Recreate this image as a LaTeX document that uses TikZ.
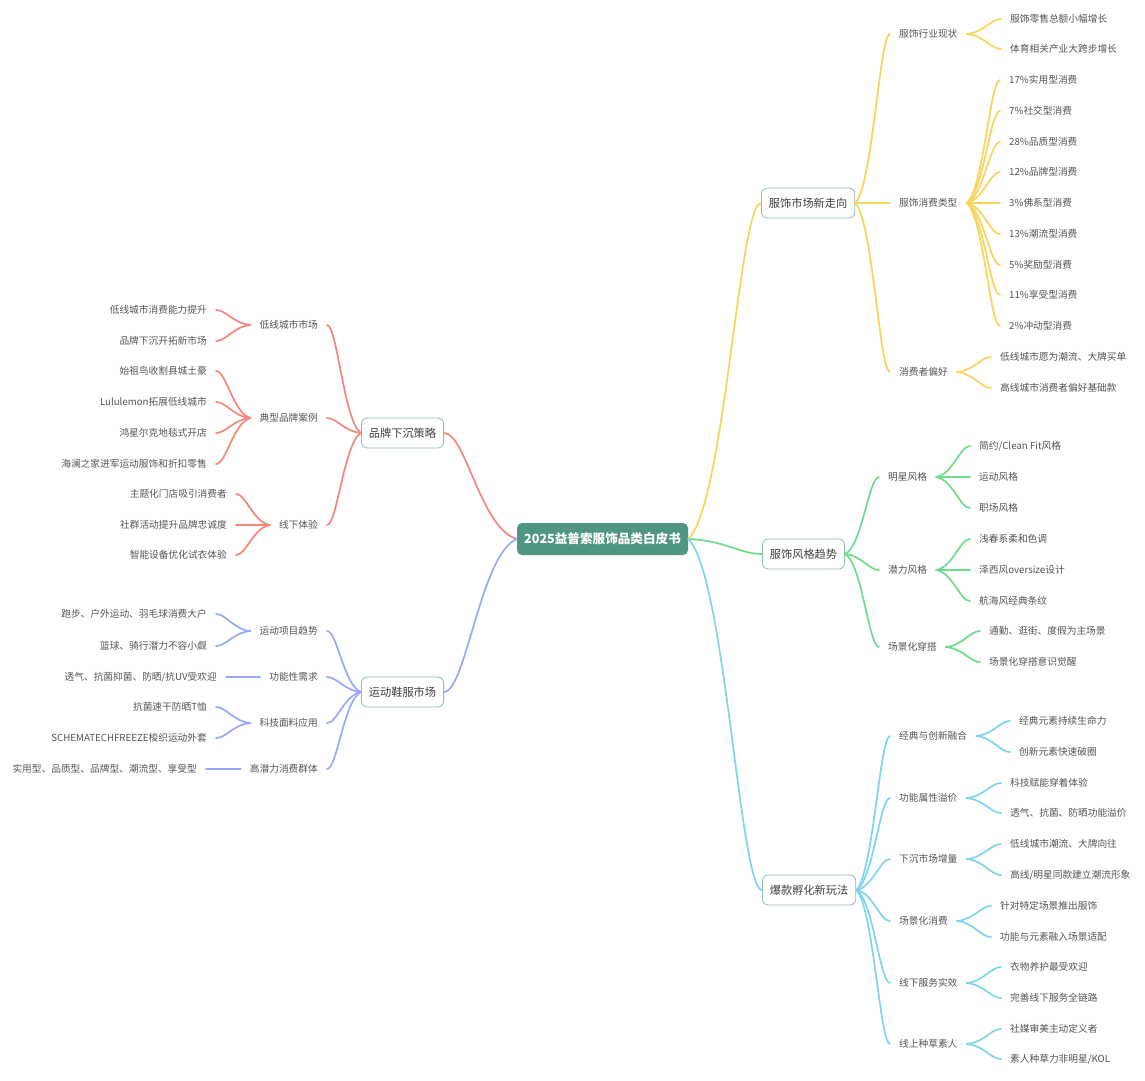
\documentclass[tikz,border=0pt]{standalone}
\usepackage{fontspec}
\setmainfont{Noto Sans CJK SC}
\usetikzlibrary{calc}
\definecolor{cy}{HTML}{F9D45C}
\definecolor{cg}{HTML}{6FDC8C}
\definecolor{cc}{HTML}{7ED6EA}
\definecolor{cr}{HTML}{F3877A}
\definecolor{cb}{HTML}{9AA9F5}
\definecolor{rootc}{HTML}{4E9582}
\definecolor{boxc}{HTML}{8EBDB2}
\definecolor{txt}{HTML}{555555}
\definecolor{txtdark}{HTML}{404040}
\tikzset{
  rootnode/.style={fill=rootc, rounded corners=5pt, text=white, font=\fontsize{12.6}{15}\selectfont\bfseries, minimum width=171pt, minimum height=32pt, inner sep=0pt},
  topic/.style={draw=boxc, line width=0.8pt, fill=white, rounded corners=6pt, font=\fontsize{11.2}{13}\selectfont, text=txtdark, minimum height=30pt, inner xsep=7.5pt, inner ysep=0pt},
  subnode/.style={font=\fontsize{9.7}{12}\selectfont, text=txt, inner xsep=9pt, inner ysep=2pt},
  edge/.style={line width=1.7pt, line cap=round},
}
\newcommand\cn[3]{\draw[edge,#1] let \p1=(#2), \p2=(#3) in (\p1) .. controls ({\x1+0.5*(\x2-\x1)},{\y1+0.1*(\y2-\y1)}) and ({\x2-0.3*(\x2-\x1)},{\y2}) .. (\p2);}
\begin{document}
\begin{tikzpicture}[x=1pt,y=-1pt]
\useasboundingbox[fill=white] (0,0) rectangle (1145,1080);
% root
\node[rootnode] (r) at (602.5,539) {2025益普索服饰品类白皮书};
% main topics
\node[topic,anchor=west] (Y) at (761,203) {服饰市场新走向};
\node[topic,anchor=west] (G) at (762,554) {服饰风格趋势};
\node[topic,anchor=west] (C) at (762,890) {爆款孵化新玩法};
\node[topic,anchor=east] (R) at (444,433) {品牌下沉策略};
\node[topic,anchor=east] (B) at (444,692) {运动鞋服市场};
% yellow subtopics
\node[subnode,anchor=west] (y1) at (890,34) {服饰行业现状};
\node[subnode,anchor=west] (y2) at (890,203) {服饰消费类型};
\node[subnode,anchor=west] (y3) at (890,372) {消费者偏好};
\node[subnode,anchor=west] (y1a) at (1001,19) {服饰零售总额小幅增长};
\node[subnode,anchor=west] (y1b) at (1001,49) {体育相关产业大跨步增长};
\node[subnode,anchor=west] (y2a) at (1000,80) {17\%实用型消费};
\node[subnode,anchor=west] (y2b) at (1000,111) {7\%社交型消费};
\node[subnode,anchor=west] (y2c) at (1000,142) {28\%品质型消费};
\node[subnode,anchor=west] (y2d) at (1000,172) {12\%品牌型消费};
\node[subnode,anchor=west] (y2e) at (1000,203) {3\%佛系型消费};
\node[subnode,anchor=west] (y2f) at (1000,234) {13\%潮流型消费};
\node[subnode,anchor=west] (y2g) at (1000,265) {5\%奖励型消费};
\node[subnode,anchor=west] (y2h) at (1000,295) {11\%享受型消费};
\node[subnode,anchor=west] (y2i) at (1000,326) {2\%冲动型消费};
\node[subnode,anchor=west] (y3a) at (991,357) {低线城市愿为潮流、大牌买单};
\node[subnode,anchor=west] (y3b) at (991,388) {高线城市消费者偏好基础款};
% green subtopics
\node[subnode,anchor=west] (g1) at (879,477) {明星风格};
\node[subnode,anchor=west] (g2) at (879,570) {潜力风格};
\node[subnode,anchor=west] (g3) at (879,647) {场景化穿搭};
\node[subnode,anchor=west] (g1a) at (970,446) {简约/Clean Fit风格};
\node[subnode,anchor=west] (g1b) at (970,477) {运动风格};
\node[subnode,anchor=west] (g1c) at (970,508) {职场风格};
\node[subnode,anchor=west] (g2a) at (970,539) {浅春系柔和色调};
\node[subnode,anchor=west] (g2b) at (970,570) {泽西风oversize设计};
\node[subnode,anchor=west] (g2c) at (970,601) {航海风经典条纹};
\node[subnode,anchor=west] (g3a) at (980,631) {通勤、逛街、度假为主场景};
\node[subnode,anchor=west] (g3b) at (980,662) {场景化穿搭意识觉醒};
% cyan subtopics
\node[subnode,anchor=west] (c1) at (890,736) {经典与创新融合};
\node[subnode,anchor=west] (c2) at (890,798) {功能属性溢价};
\node[subnode,anchor=west] (c3) at (890,859) {下沉市场增量};
\node[subnode,anchor=west] (c4) at (890,921) {场景化消费};
\node[subnode,anchor=west] (c5) at (890,983) {线下服务实效};
\node[subnode,anchor=west] (c6) at (890,1044) {线上种草素人};
\node[subnode,anchor=west] (c1a) at (1010,721) {经典元素持续生命力};
\node[subnode,anchor=west] (c1b) at (1010,752) {创新元素快速破圈};
\node[subnode,anchor=west] (c2a) at (1001,783) {科技赋能穿着体验};
\node[subnode,anchor=west] (c2b) at (1001,813) {透气、抗菌、防晒功能溢价};
\node[subnode,anchor=west] (c3a) at (1001,844) {低线城市潮流、大牌向往};
\node[subnode,anchor=west] (c3b) at (1001,875) {高线/明星同款建立潮流形象};
\node[subnode,anchor=west] (c4a) at (991,906) {针对特定场景推出服饰};
\node[subnode,anchor=west] (c4b) at (991,937) {功能与元素融入场景适配};
\node[subnode,anchor=west] (c5a) at (1001,967) {衣物养护最受欢迎};
\node[subnode,anchor=west] (c5b) at (1001,998) {完善线下服务全链路};
\node[subnode,anchor=west] (c6a) at (1001,1029) {社媒审美主动定义者};
\node[subnode,anchor=west] (c6b) at (1001,1059) {素人种草力非明星/KOL};
% red subtopics
\node[subnode,anchor=east] (r1) at (327,325) {低线城市市场};
\node[subnode,anchor=east] (r2) at (327,418) {典型品牌案例};
\node[subnode,anchor=east] (r3) at (327,525) {线下体验};
\node[subnode,anchor=east] (r1a) at (216,310) {低线城市消费能力提升};
\node[subnode,anchor=east] (r1b) at (216,341) {品牌下沉开拓新市场};
\node[subnode,anchor=east] (r2a) at (216,371) {始祖鸟收割县城土豪};
\node[subnode,anchor=east] (r2b) at (216,402) {Lululemon拓展低线城市};
\node[subnode,anchor=east] (r2c) at (216,433) {鸿星尔克地毯式开店};
\node[subnode,anchor=east] (r2d) at (216,464) {海澜之家进军运动服饰和折扣零售};
\node[subnode,anchor=east] (r3a) at (236,494) {主题化门店吸引消费者};
\node[subnode,anchor=east] (r3b) at (236,525) {社群活动提升品牌忠诚度};
\node[subnode,anchor=east] (r3c) at (236,555) {智能设备优化试衣体验};
% blue subtopics
\node[subnode,anchor=east] (b1) at (327,631) {运动项目趋势};
\node[subnode,anchor=east] (b2) at (327,677) {功能性需求};
\node[subnode,anchor=east] (b3) at (327,723) {科技面料应用};
\node[subnode,anchor=east] (b4) at (327,769) {高潜力消费群体};
\node[subnode,anchor=east] (b1a) at (216,614) {跑步、户外运动、羽毛球消费大户};
\node[subnode,anchor=east] (b1b) at (216,646) {篮球、骑行潜力不容小觑};
\node[subnode,anchor=east] (b2a) at (226,677) {透气、抗菌抑菌、防晒/抗UV受欢迎};
\node[subnode,anchor=east] (b3a) at (216,707) {抗菌速干防晒T恤};
\node[subnode,anchor=east] (b3b) at (216,738) {SCHEMATECHFREEZE梭织运动外套};
\node[subnode,anchor=east] (b4a) at (206,769) {实用型、品质型、品牌型、潮流型、享受型};
% root edges
\cn{cy}{r.east}{Y.west}
\cn{cg}{r.east}{G.west}
\cn{cc}{r.east}{C.west}
\cn{cr}{r.west}{R.east}
\cn{cb}{r.west}{B.east}
% yellow edges
\foreach \s in {y1,y2,y3} {\cn{cy}{Y.east}{\s.west}}
\foreach \s in {y1a,y1b} {\cn{cy}{y1.east}{\s.west}}
\foreach \s in {y2a,y2b,y2c,y2d,y2e,y2f,y2g,y2h,y2i} {\cn{cy}{y2.east}{\s.west}}
\foreach \s in {y3a,y3b} {\cn{cy}{y3.east}{\s.west}}
% green edges
\foreach \s in {g1,g2,g3} {\cn{cg}{G.east}{\s.west}}
\foreach \s in {g1a,g1b,g1c} {\cn{cg}{g1.east}{\s.west}}
\foreach \s in {g2a,g2b,g2c} {\cn{cg}{g2.east}{\s.west}}
\foreach \s in {g3a,g3b} {\cn{cg}{g3.east}{\s.west}}
% cyan edges
\foreach \s in {c1,c2,c3,c4,c5,c6} {\cn{cc}{C.east}{\s.west}}
\foreach \s in {c1a,c1b} {\cn{cc}{c1.east}{\s.west}}
\foreach \s in {c2a,c2b} {\cn{cc}{c2.east}{\s.west}}
\foreach \s in {c3a,c3b} {\cn{cc}{c3.east}{\s.west}}
\foreach \s in {c4a,c4b} {\cn{cc}{c4.east}{\s.west}}
\foreach \s in {c5a,c5b} {\cn{cc}{c5.east}{\s.west}}
\foreach \s in {c6a,c6b} {\cn{cc}{c6.east}{\s.west}}
% red edges
\foreach \s in {r1,r2,r3} {\cn{cr}{R.west}{\s.east}}
\foreach \s in {r1a,r1b} {\cn{cr}{r1.west}{\s.east}}
\foreach \s in {r2a,r2b,r2c,r2d} {\cn{cr}{r2.west}{\s.east}}
\foreach \s in {r3a,r3b,r3c} {\cn{cr}{r3.west}{\s.east}}
% blue edges
\foreach \s in {b1,b2,b3,b4} {\cn{cb}{B.west}{\s.east}}
\foreach \s in {b1a,b1b} {\cn{cb}{b1.west}{\s.east}}
\cn{cb}{b2.west}{b2a.east}
\foreach \s in {b3a,b3b} {\cn{cb}{b3.west}{\s.east}}
\cn{cb}{b4.west}{b4a.east}
\end{tikzpicture}
\end{document}
